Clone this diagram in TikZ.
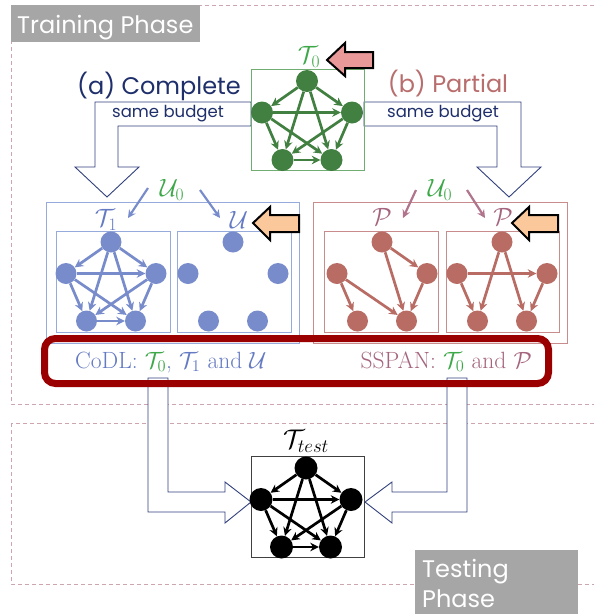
\RequirePackage{fix-cm}
\documentclass[tikz,border=0pt]{standalone}
\usepackage{fontspec}
\newfontfamily\gothic{Poppins}
\usetikzlibrary{arrows.meta,calc}
\definecolor{gnode}{RGB}{65,128,64}
\definecolor{gbox}{RGB}{112,173,112}
\definecolor{tgreen}{RGB}{60,168,72}
\definecolor{cblue}{RGB}{120,140,204}
\definecolor{cbluetext}{RGB}{100,122,195}
\definecolor{bbox}{RGB}{150,170,220}
\definecolor{pnode}{RGB}{184,108,100}
\definecolor{pbox}{RGB}{200,140,140}
\definecolor{mauve}{RGB}{176,116,140}
\definecolor{mauvetext}{RGB}{165,100,125}
\definecolor{navy}{RGB}{31,47,107}
\definecolor{navyline}{RGB}{50,65,125}
\definecolor{partial}{RGB}{185,110,110}
\definecolor{cred}{RGB}{155,0,0}
\definecolor{dashc}{RGB}{205,165,175}
\definecolor{labgray}{RGB}{166,166,166}
\definecolor{pinkfill}{RGB}{234,153,153}
\definecolor{orangefill}{RGB}{250,200,155}
\newcommand\pentnodes[4]{%
  \node[#4] (#1a) at (#2,#3) {};
  \node[#4] (#1b) at (#2-45,#3+31.5) {};
  \node[#4] (#1c) at (#2+45,#3+31.5) {};
  \node[#4] (#1d) at (#2-24.5,#3+79) {};
  \node[#4] (#1e) at (#2+24.5,#3+79) {};}
\newcommand\fulledges[2]{%
  \foreach \s/\t in {a/b,a/c,a/d,a/e,b/c,b/d,b/e,c/d,c/e,d/e}
    \draw[#2] (#1\s) -- (#1\t);}
\begin{document}
\begin{tikzpicture}[x=1pt,y=-1pt,
  dashbox/.style={draw=dashc, line width=0.9pt, dash pattern=on 4pt off 3pt},
  graybox/.style={fill=labgray, draw=none},
  phasetext/.style={text=white, font=\gothic\fontsize{24}{27}\selectfont, inner sep=0pt},
  gn/.style={circle, fill=gnode, minimum size=22pt, inner sep=0pt},
  bn/.style={circle, fill=cblue, minimum size=21pt, inner sep=0pt},
  pn/.style={circle, fill=pnode, minimum size=21pt, inner sep=0pt},
  kn/.style={circle, fill=black, minimum size=23pt, inner sep=0pt},
  edgebase/.style={line width=2.7pt, -{Stealth[length=8.5pt,width=8.5pt]}},
  gedge/.style={edgebase, draw=gnode},
  bedge/.style={edgebase, draw=cblue},
  pedge/.style={edgebase, draw=pnode},
  kedge/.style={edgebase, draw=black},
  blockarrow/.style={draw=navyline, line width=0.9pt, fill=white},
  fatarrow/.style={draw=black, line width=2pt, line join=miter},
  lab/.style={font=\fontsize{25}{28}\selectfont, inner sep=0pt},
  budget/.style={text=navy, font=\gothic\fontsize{16.5}{19}\selectfont, inner sep=0pt},
  bigtitle/.style={font=\gothic\fontsize{24}{28}\selectfont, inner sep=0pt},
  summary/.style={font=\fontsize{23.5}{26}\selectfont, inner sep=0pt},
  smallarrow/.style={line width=2.2pt, -{Stealth[length=8pt,width=8pt]}}]
\useasboundingbox (0,0) rectangle (594,614);
\clip (0,0) rectangle (594,614);
\fill[white] (0,0) rectangle (594,614);

% phase frames
\draw[dashbox] (11,5) rectangle (600,404);
\draw[dashbox] (11,423) rectangle (600,584);
\fill[graybox] (11,5) rectangle (200,42);
\node[phasetext, anchor=base west] (trainlab) at (17,33) {Training Phase};
\fill[graybox] (415,550) rectangle (578,620);
\node[phasetext, anchor=base west] (testlab1) at (422,577) {Testing};
\node[phasetext, anchor=base west] (testlab2) at (422,607) {Phase};

% titles
\node[bigtitle, text=navy] (complete) at (159,86) {(a) Complete};
\node[bigtitle, text=partial] (partial) at (448,84) {(b) Partial};

% same budget block arrows
\draw[blockarrow] (251,102) -- (95,102) -- (95,167) -- (75,167) -- (107,197) -- (139,167) -- (118,167) -- (118,126) -- (251,126) -- cycle;
\draw[blockarrow] (364,102) -- (521,102) -- (521,167) -- (541,167) -- (509,197) -- (477,167) -- (497,167) -- (497,126) -- (364,126) -- cycle;
\node[budget] (budgetL) at (168,114) {same budget};
\node[budget] (budgetR) at (443,114) {same budget};

% T0 graph
\draw[gbox, line width=0.9pt] (251,69) rectangle (364,170);
\pentnodes{g}{307}{81}{gn}
\fulledges{g}{gedge}
\node[lab, text=tgreen] (t0lab) at (309,57) {$\mathcal{T}_0$};
\draw[fatarrow, fill=pinkfill] (327,60) -- (345,43) -- (345,52) -- (373,52) -- (373,68) -- (345,68) -- (345,76) -- cycle;

% blue group
\draw[bbox, line width=0.9pt] (46,202) rectangle (299,343);
\draw[bbox, line width=0.9pt] (56,231) rectangle (170,332);
\draw[bbox, line width=0.9pt] (177,231) rectangle (291,332);
\pentnodes{t}{111}{242}{bn}
\fulledges{t}{bedge}
\pentnodes{u}{233}{242}{bn}
\node[lab, text=tgreen] (u0a) at (172,190) {$\mathcal{U}_0$};
\node[lab, text=cbluetext] (t1lab) at (106,220) {$\mathcal{T}_1$};
\node[lab, text=cbluetext] (ulab) at (239,220) {$\mathcal{U}$};
\coordinate (u0aL) at (148,188);
\coordinate (u0aR) at (200,190);
\coordinate (t1in) at (128,218);
\coordinate (uin) at (220,218);
\draw[smallarrow, cblue] (u0aL) -- (t1in);
\draw[smallarrow, cblue] (u0aR) -- (uin);
\draw[fatarrow, fill=orangefill] (253,223) -- (270,207) -- (270,215) -- (299,215) -- (299,232) -- (270,232) -- (270,240) -- cycle;

% pink group
\draw[pbox, line width=0.9pt] (313,202) rectangle (567,343);
\draw[pbox, line width=0.9pt] (324,231) rectangle (438,332);
\draw[pbox, line width=0.9pt] (446,231) rectangle (559,332);
\pentnodes{p}{382}{242}{pn}
\pentnodes{q}{502}{242}{pn}
\foreach \s/\t in {a/c,a/e,b/d,b/e,c/e} \draw[pedge] (p\s) -- (p\t);
\foreach \s/\t in {a/d,a/e,b/c,b/d,c/e} \draw[pedge] (q\s) -- (q\t);
\node[lab, text=tgreen] (u0b) at (440,190) {$\mathcal{U}_0$};
\node[lab, text=mauvetext] (plabL) at (382,217) {$\mathcal{P}$};
\node[lab, text=mauvetext] (plabR) at (503,217) {$\mathcal{P}$};
\coordinate (u0bL) at (416,190);
\coordinate (u0bR) at (467,190);
\coordinate (pinL) at (403,218);
\coordinate (pinR) at (485,218);
\draw[smallarrow, mauve] (u0bL) -- (pinL);
\draw[smallarrow, mauve] (u0bR) -- (pinR);
\draw[fatarrow, fill=orangefill] (512,223) -- (529,207) -- (529,215) -- (558,215) -- (558,232) -- (529,232) -- (529,240) -- cycle;

% bottom block arrows
\draw[blockarrow] (148,378) -- (148,512) -- (225,512) -- (225,523) -- (251,502) -- (225,482) -- (225,492) -- (168,492) -- (168,378) -- cycle;
\draw[blockarrow] (467,378) -- (467,512) -- (392,512) -- (392,523) -- (365,502) -- (392,482) -- (392,492) -- (447,492) -- (447,378) -- cycle;

% red summary box
\draw[cred, line width=7pt, rounded corners=11pt] (44.5,338.5) rectangle (548.5,383.5);
\node[summary, text=cbluetext, anchor=base west] (codl) at (75,368)
  {CoDL: {\color{tgreen}$\mathcal{T}_0$}, $\mathcal{T}_1$ and $\mathcal{U}$};
\node[summary, text=mauvetext, anchor=base east] (sspan) at (532,368)
  {SSPAN: {\color{tgreen}$\mathcal{T}_0$} and $\mathcal{P}$};

% test graph
\draw[black!75, line width=0.9pt] (251,456) rectangle (364,557);
\pentnodes{k}{306}{468}{kn}
\fulledges{k}{kedge}
\node[font=\fontsize{27}{30}\selectfont, inner sep=0pt] (testlab) at (306,441) {$\mathcal{T}_{test}$};
\end{tikzpicture}
\end{document}
